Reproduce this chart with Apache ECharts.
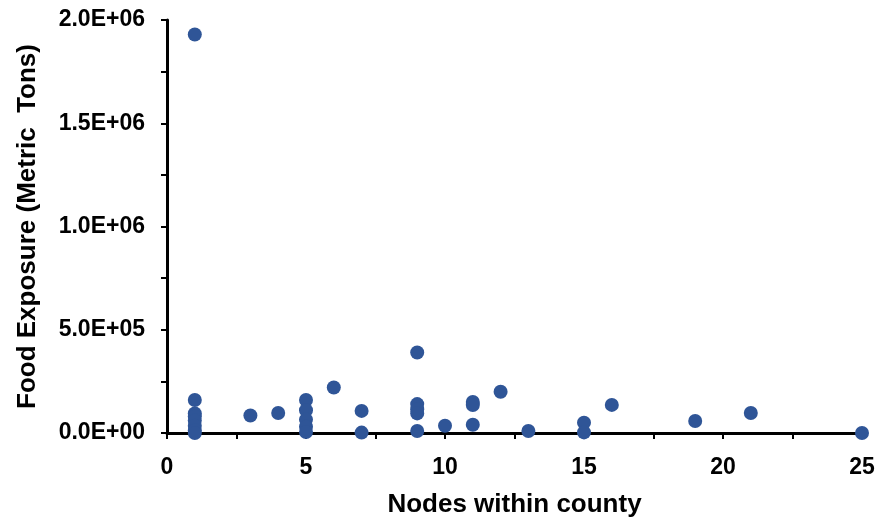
<!DOCTYPE html>
<html>
<head>
<meta charset="utf-8">
<script src="https://cdn.jsdelivr.net/npm/echarts@6/dist/echarts.min.js"></script>
<style>html,body{margin:0;padding:0;background:#fff}#c{width:882px;height:521px}</style>
</head>
<body>
<div id="c"></div>
<script>
// Nodes within county (x) and food exposure in metric tons (y)
var nodes = [1, 1, 1, 1, 1, 1, 1, 1,
             3, 4,
             5, 5, 5, 5, 5,
             6, 7, 7,
             9, 9, 9, 9, 9,
             10, 11, 11, 11, 12, 13,
             15, 15, 16, 19, 21, 25];
var exposure = [1930000, 160000, 95000, 80000, 60000, 35000, 12000, 0,
                85000, 97000,
                160000, 110000, 65000, 30000, 5000,
                220000, 107000, 2000,
                390000, 140000, 115000, 95000, 10000,
                35000, 150000, 135000, 40000, 200000, 10000,
                50000, 3000, 136000, 58000, 97000, 0];
var xTitle = 'Nodes within county';
var yTitle = 'Food Exposure (Metric  Tons)';

var points = nodes.map(function (n, i) { return [n, exposure[i]]; });

function sci(v) {
  if (v === 0) return '0.0E+00';
  var e = Math.floor(Math.log10(Math.abs(v)));
  var m = v / Math.pow(10, e);
  var es = (e < 0 ? '-' : '+') + (Math.abs(e) < 10 ? '0' : '') + Math.abs(e);
  return m.toFixed(1) + 'E' + es;
}

var font = 'Liberation Sans, Arial, sans-serif';
var chart = echarts.init(document.getElementById('c'));
chart.setOption({
  animation: false,
  backgroundColor: '#fff',
  grid: { left: 167, right: 20, top: 20, bottom: 88, outerBoundsMode: 'none', containLabel: false },
  xAxis: {
    type: 'value', min: 0, max: 25, interval: 5,
    name: xTitle, nameLocation: 'middle', nameGap: 59,
    nameTextStyle: { fontFamily: font, fontWeight: 'bold', fontSize: 26, color: '#000' },
    axisLine: { show: true, onZero: false, lineStyle: { color: '#000', width: 3 } },
    axisTick: { show: true, length: 6, lineStyle: { color: '#000', width: 2 } },
    minorTick: { show: true, splitNumber: 2, length: 6, lineStyle: { color: '#000', width: 2 } },
    splitLine: { show: false },
    axisLabel: { margin: 23, fontFamily: font, fontWeight: 'bold', fontSize: 23, color: '#000' }
  },
  yAxis: {
    type: 'value', min: 0, max: 2000000, interval: 500000,
    name: yTitle, nameLocation: 'middle', nameGap: 126,
    nameTextStyle: { fontFamily: font, fontWeight: 'bold', fontSize: 26, color: '#000' },
    axisLine: { show: true, lineStyle: { color: '#000', width: 3 } },
    axisTick: { show: true, length: 6, lineStyle: { color: '#000', width: 2 } },
    minorTick: { show: true, splitNumber: 2, length: 6, lineStyle: { color: '#000', width: 2 } },
    splitLine: { show: false },
    axisLabel: { margin: 22, fontFamily: font, fontWeight: 'bold', fontSize: 23, color: '#000', formatter: sci }
  },
  series: [{
    type: 'scatter',
    data: points,
    symbolSize: 14,
    itemStyle: { color: '#2F5597', opacity: 1 }
  }]
});
</script>
</body>
</html>
